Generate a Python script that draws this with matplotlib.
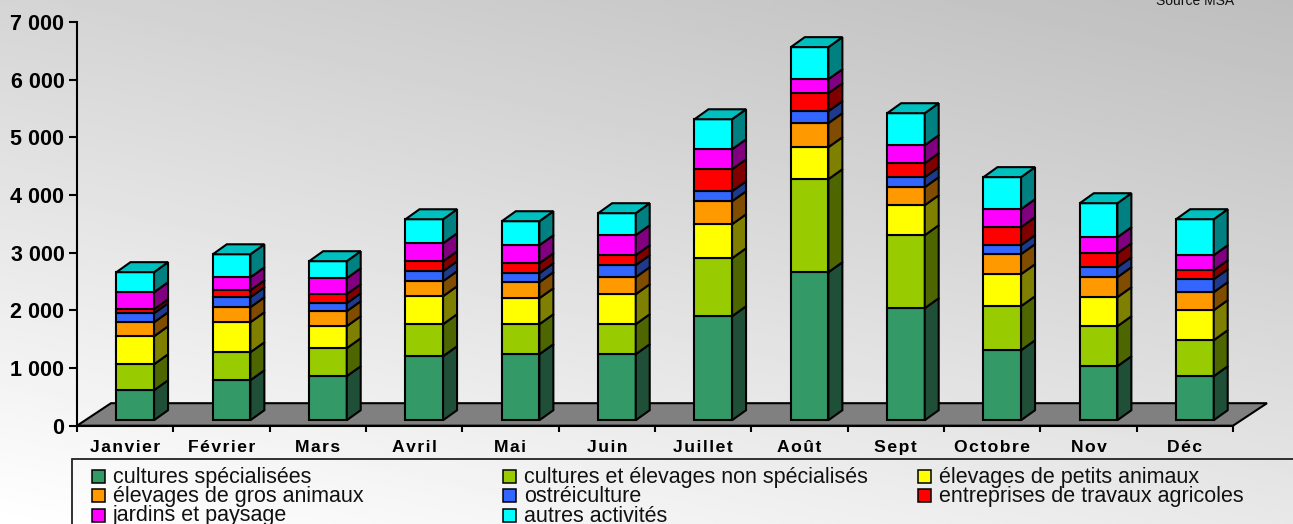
import matplotlib
matplotlib.use('Agg')
import matplotlib.pyplot as plt
from matplotlib.patches import Rectangle
import numpy as np

plt.rcParams['font.family'] = ['Liberation Sans', 'DejaVu Sans']

months = ['Janvier', 'Février', 'Mars', 'Avril', 'Mai', 'Juin', 'Juillet', 'Août', 'Sept', 'Octobre', 'Nov', 'Déc']

specialisees = [520, 693, 763, 1109, 1144, 1144, 1802, 2565, 1941, 1213, 936, 763]
non_specialises = [450, 485, 485, 555, 520, 520, 1005, 1612, 1265, 763, 693, 624]
petits_animaux = [485, 520, 381, 485, 451, 520, 589, 555, 520, 555, 503, 520]
gros_animaux = [243, 260, 260, 260, 277, 295, 399, 416, 312, 347, 347, 312]
ostreiculture = [156, 173, 139, 173, 156, 208, 173, 208, 173, 156, 173, 225]
travaux_agricoles = [70, 121, 156, 173, 173, 173, 381, 312, 243, 312, 243, 156]
jardins = [295, 225, 277, 312, 312, 347, 347, 243, 312, 312, 277, 260]
autres = [347, 399, 295, 416, 416, 381, 520, 555, 555, 555, 589, 624]

series = [specialisees, non_specialises, petits_animaux, gros_animaux,
          ostreiculture, travaux_agricoles, jardins, autres]
names = ['cultures spécialisées', 'cultures et élevages non spécialisés', 'élevages de petits animaux',
         'élevages de gros animaux', 'ostréiculture', 'entreprises de travaux agricoles',
         'jardins et paysage', 'autres activités']
front_colors = ['#339966', '#99CC00', '#FFFF00', '#FF9900', '#3366FF', '#FF0000', '#FF00FF', '#00FFFF']
side_colors = ['#1F4F37', '#4D6600', '#808000', '#804D00', '#1F3A8A', '#800000', '#800080', '#008080']
top_color = '#00BFBF'

W, H = 1293, 524
fig = plt.figure(figsize=(W / 100, H / 100), dpi=100)

# grey gradient behind everything, light at bottom left
bg = fig.add_axes([0, 0, 1, 1], zorder=-1)
xx, yy = np.meshgrid(np.linspace(0, 1, 200), np.linspace(0, 1, 200))
bg.imshow(255 - 23 * xx - 42 * yy, cmap='gray', vmin=0, vmax=255, origin='lower', aspect='auto')
bg.axis('off')

ax = fig.add_axes([77 / W, 1 - 425.7 / H, (1233 - 77) / W, (425.7 - 21.8) / H])
ax.patch.set_visible(False)
ax.set_xlim(0, 12)
ax.set_ylim(0, 7000)

# fake 3d depth, in data units
floor_dx, floor_dy = 0.353, 390
bar_dx, bar_dy = 0.145, 173
base = 95
bar_w = 0.39
edge = 1.5

ax.fill([0, 12, 12 + floor_dx, floor_dx], [0, 0, floor_dy, floor_dy],
        facecolor='#808080', edgecolor='black', lw=edge, clip_on=False, zorder=1)

for i in range(len(months)):
    left = i + 0.605 - bar_w / 2
    right = left + bar_w
    bottom = base
    for s, vals in enumerate(series):
        top = bottom + vals[i]
        ax.bar(left, vals[i], bar_w, bottom=bottom, align='edge', color=front_colors[s],
               edgecolor='black', lw=edge, clip_on=False, zorder=3)
        ax.fill([right, right + bar_dx, right + bar_dx, right],
                [bottom, bottom + bar_dy, top + bar_dy, top],
                facecolor=side_colors[s], edgecolor='black', lw=edge, clip_on=False, zorder=3)
        bottom = top
    ax.fill([left, right, right + bar_dx, left + bar_dx],
            [bottom, bottom, bottom + bar_dy, bottom + bar_dy],
            facecolor=top_color, edgecolor='black', lw=edge, clip_on=False, zorder=3)

ax.spines['top'].set_visible(False)
ax.spines['right'].set_visible(False)
ax.spines['left'].set_linewidth(1.5)
ax.spines['bottom'].set_linewidth(1.5)
ax.spines['bottom'].set_zorder(4)

ax.set_yticks(np.arange(0, 7001, 1000))
ax.set_yticklabels(['0', '1 000', '2 000', '3 000', '4 000', '5 000', '6 000', '7 000'],
                   fontsize=15.5, fontweight='bold')
ax.tick_params(axis='y', length=6, width=1.5, pad=3)

ax.set_xticks(np.arange(0, 13))
ax.set_xticklabels([])
ax.tick_params(axis='x', which='major', length=4, width=1.5)
ax.set_xticks(np.arange(12) + 0.5, minor=True)
ax.set_xticklabels(['\u200a'.join(m) for m in months], minor=True, fontsize=12.6, fontweight='bold')
ax.tick_params(axis='x', which='minor', length=0, pad=10)

# legend box runs off the picture on the right and bottom
fig.add_artist(Rectangle((72 / W, -0.05), 1.05, 1 - 459 / H + 0.05, transform=fig.transFigure,
                         facecolor='none', edgecolor='#222222', lw=1.3))
col_x = [92, 503, 918]
row_y = [476, 495.5, 515]
for k, name in enumerate(names):
    col = k % 3
    row = k // 3
    fig.add_artist(Rectangle((col_x[col] / W, 1 - (row_y[row] + 6.5) / H), 13 / W, 13 / H,
                             transform=fig.transFigure, facecolor=front_colors[k],
                             edgecolor='black', lw=1.1))
    fig.text((col_x[col] + 21) / W, 1 - (row_y[row] + 1) / H, name, fontsize=15.5, va='center', color='#111111')

fig.text(1234 / W, 1 - 5 / H, 'Source MSA', fontsize=10, ha='right', va='baseline', color='#111111')

fig.savefig('out.png', dpi=100)
